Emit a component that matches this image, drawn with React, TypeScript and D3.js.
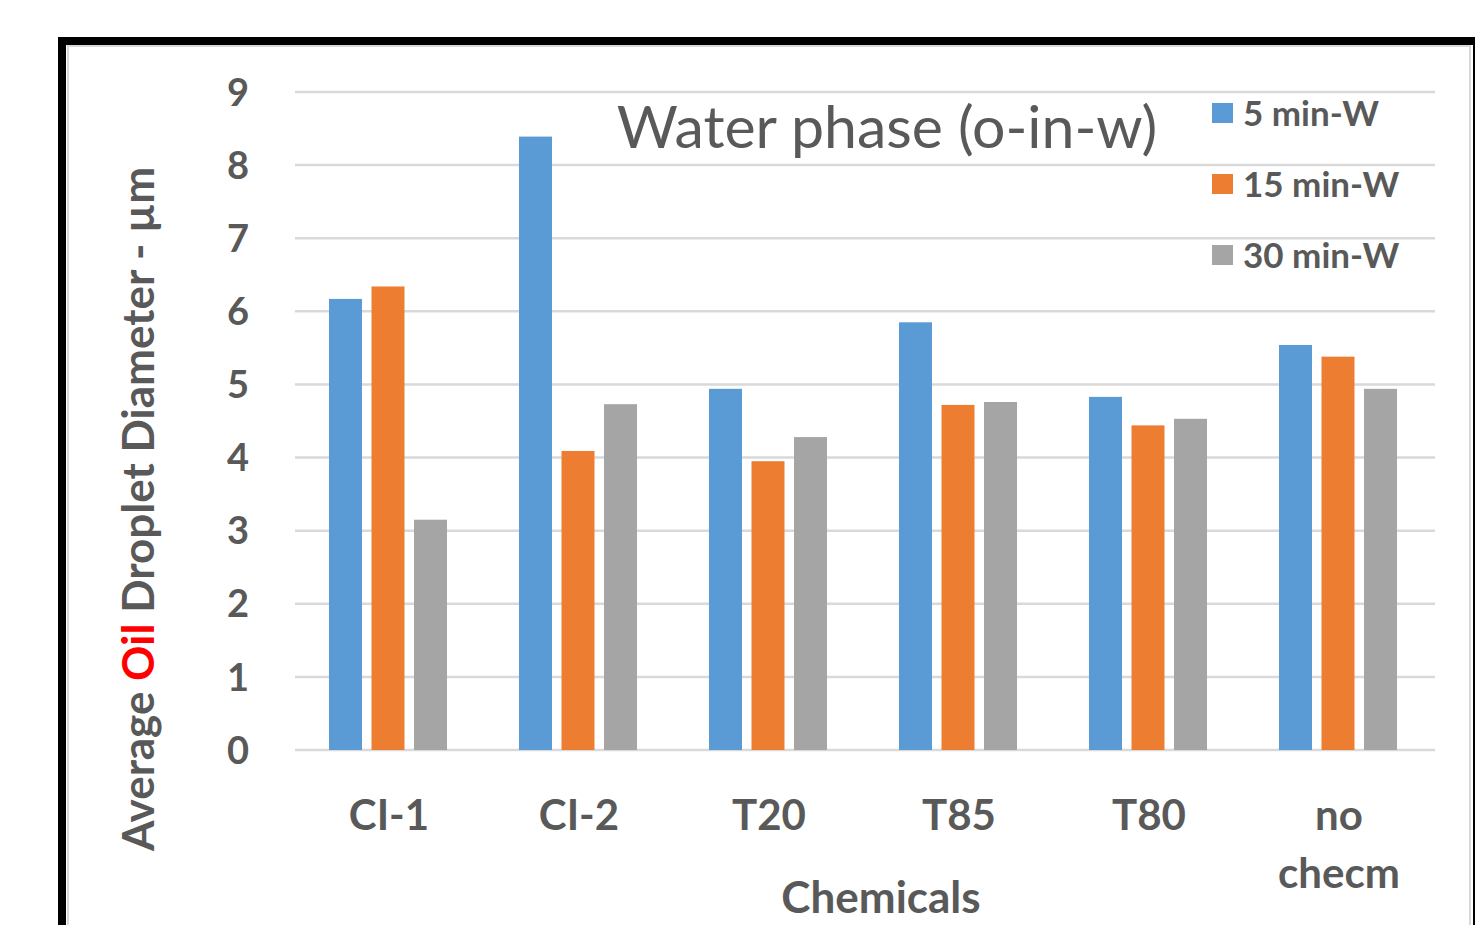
import React from "react";
import * as d3 from "d3";

const categories = ["CI-1", "CI-2", "T20", "T85", "T80", "no checm"];
const seriesNames = ["5 min-W", "15 min-W", "30 min-W"];
const series5 = [6.17, 8.39, 4.94, 5.85, 4.83, 5.54];
const series15 = [6.34, 4.09, 3.95, 4.72, 4.44, 5.38];
const series30 = [3.15, 4.73, 4.28, 4.76, 4.53, 4.94];
const seriesColors = ["#5b9bd5", "#ed7d31", "#a5a5a5"];
const yTicks = [0, 1, 2, 3, 4, 5, 6, 7, 8, 9];

const W = 1475;
const H = 925;
const FONT = "Lato, 'Open Sans', sans-serif";
const TEXT = "#595959";

export default function App() {
  const values = [series5, series15, series30];
  const x0 = d3.scaleBand<string>().domain(categories).range([295, 1435]).padding(0);
  const x1 = d3.scaleBand<string>().domain(seriesNames).range([34, 152]).paddingInner(0.224).paddingOuter(0);
  const y = d3.scaleLinear().domain([0, 9]).range([750, 92]);

  return (
    <svg width={W} height={H} style={{ position: "absolute", left: 0, top: 0, background: "#fff" }} fontFamily={FONT}>
      <rect x={0} y={0} width={W} height={H} fill="#fff" />
      {/* frame */}
      <rect x={68} y={46} width={1402} height={H} fill="none" stroke="#d9d9d9" strokeWidth={2} />
      <rect x={62} y={41} width={1415} height={H} fill="none" stroke="#000" strokeWidth={8} />

      {/* grid */}
      {yTicks.map((t) => (
        <line key={t} x1={295} x2={1435} y1={y(t)} y2={y(t)} stroke="#d9d9d9" strokeWidth={2.5} />
      ))}
      {/* y tick labels */}
      {yTicks.map((t) => (
        <text key={"l" + t} x={249} y={y(t)} dy="0.36em" textAnchor="end" fontSize={38} fontWeight="bold" fill={TEXT}>
          {t}
        </text>
      ))}

      {/* bars */}
      {categories.map((c, ci) => (
        <g key={c} transform={`translate(${x0(c)},0)`}>
          {seriesNames.map((s, si) => (
            <rect
              key={s}
              x={x1(s)}
              y={y(values[si][ci])}
              width={x1.bandwidth()}
              height={y(0) - y(values[si][ci])}
              fill={seriesColors[si]}
            />
          ))}
        </g>
      ))}

      {/* x labels */}
      {categories.map((c) => {
        const cx = (x0(c) as number) + x0.bandwidth() / 2 - 1;
        const parts = c === "no checm" ? ["no", "checm"] : [c];
        return (
          <text key={c} x={cx} y={830} textAnchor="middle" fontSize={42} fontWeight="bold" fill={TEXT}>
            {parts.map((p, i) => (
              <tspan key={i} x={cx} dy={i === 0 ? 0 : 58}>
                {p}
              </tspan>
            ))}
          </text>
        );
      })}

      {/* axis titles */}
      <text x={881} y={913} textAnchor="middle" fontSize={44} fontWeight="bold" fill={TEXT}>
        Chemicals
      </text>
      <text transform="translate(154,509) rotate(-90)" textAnchor="middle" fontSize={44} fontWeight="bold" fill={TEXT}>
        Average <tspan fill="#ff0000">Oil</tspan> Droplet Diameter - µm
      </text>

      {/* chart title */}
      <text x={887} y={148} textAnchor="middle" fontSize={59} fill={TEXT}>
        Water phase (o-in-w)
      </text>

      {/* legend */}
      {seriesNames.map((s, i) => (
        <g key={s} transform={`translate(1212,${113 + i * 71})`}>
          <rect x={0} y={-10} width={21} height={20} fill={seriesColors[i]} />
          <text x={31} y={0} dy="0.36em" fontSize={35} fontWeight="bold" fill={TEXT}>
            {s}
          </text>
        </g>
      ))}
    </svg>
  );
}
